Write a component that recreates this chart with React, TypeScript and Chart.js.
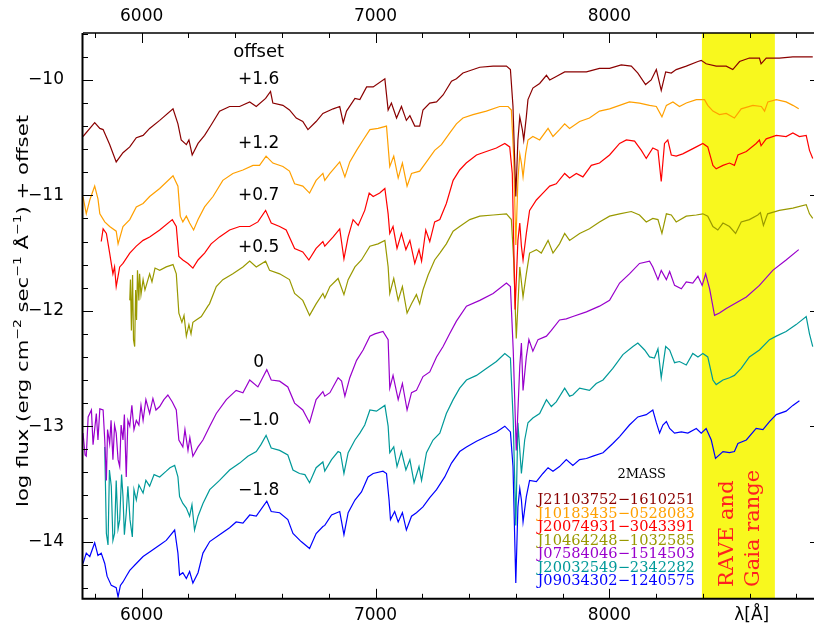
import React, { useEffect, useRef } from "react";
import { Chart, registerables } from "chart.js";

Chart.register(...registerables);

// ---------- data: [wavelength (Å), log flux + offset] ----------
const darkRed = [
  [5749,-10.49],[5799,-10.37],[5821,-10.42],[5835,-10.43],[5863,-10.56],[5891,-10.71],[5920,-10.63],[5949,-10.58],
  [5977,-10.50],[6006,-10.48],[6034,-10.42],[6077,-10.35],[6134,-10.25],[6155,-10.38],[6169,-10.52],[6191,-10.56],
  [6202,-10.52],[6216,-10.65],[6241,-10.55],[6269,-10.48],[6297,-10.39],[6333,-10.27],[6376,-10.23],[6419,-10.23],
  [6462,-10.19],[6490,-10.23],[6530,-10.16],[6551,-10.10],[6561,-10.20],[6604,-10.22],[6632,-10.26],[6661,-10.33],
  [6689,-10.36],[6711,-10.43],[6746,-10.36],[6775,-10.29],[6819,-10.25],[6847,-10.23],[6862,-10.37],[6876,-10.27],
  [6912,-10.16],[6933,-10.17],[6962,-10.06],[6990,-10.06],[7040,-9.99],[7054,-10.26],[7068,-10.20],[7090,-10.33],
  [7111,-10.23],[7132,-10.35],[7147,-10.31],[7168,-10.40],[7189,-10.40],[7203,-10.26],[7232,-10.20],[7261,-10.19],
  [7289,-10.13],[7325,-10.01],[7346,-9.99],[7374,-9.94],[7446,-9.89],[7503,-9.88],[7560,-9.88],[7577,-9.91],
  [7588,-10.23],[7600,-11.01],[7609,-10.52],[7617,-10.32],[7628,-10.43],[7634,-10.52],[7645,-10.32],[7652,-10.17],
  [7673,-10.07],[7702,-10.03],[7731,-9.96],[7745,-10.00],[7773,-9.97],[7809,-9.93],[7844,-9.93],[7902,-9.93],
  [7958,-9.90],[8001,-9.90],[8051,-9.87],[8094,-9.88],[8122,-9.94],[8155,-10.04],[8179,-10.00],[8201,-9.91],
  [8222,-10.09],[8241,-9.93],[8265,-9.94],[8286,-9.91],[8329,-9.88],[8379,-9.84],[8393,-9.83],[8414,-9.86],
  [8457,-9.88],[8500,-9.88],[8528,-9.91],[8557,-9.84],[8599,-9.81],[8642,-9.81],[8649,-9.86],[8671,-9.81],
  [8727,-9.81],[8785,-9.80],[8870,-9.80],
];

const orange = [
  [5749,-11.01],[5763,-11.16],[5778,-11.04],[5799,-10.92],[5813,-11.03],[5821,-11.16],[5842,-11.23],[5863,-11.27],
  [5891,-11.31],[5899,-11.42],[5920,-11.27],[5949,-11.21],[5977,-11.10],[6006,-11.07],[6034,-11.01],[6077,-10.94],
  [6134,-10.83],[6155,-10.92],[6165,-11.18],[6176,-11.23],[6191,-11.18],[6205,-11.24],[6222,-11.30],[6241,-11.21],
  [6269,-11.10],[6305,-11.01],[6347,-10.87],[6390,-10.81],[6433,-10.78],[6476,-10.74],[6504,-10.74],[6532,-10.66],
  [6561,-10.72],[6604,-10.75],[6632,-10.79],[6654,-10.90],[6689,-10.92],[6718,-10.98],[6746,-10.87],[6775,-10.81],
  [6783,-10.87],[6805,-10.81],[6847,-10.71],[6869,-10.84],[6890,-10.71],[6919,-10.61],[6947,-10.52],[6976,-10.43],
  [7011,-10.42],[7047,-10.40],[7061,-10.75],[7078,-10.66],[7097,-10.85],[7115,-10.72],[7135,-10.92],[7154,-10.81],
  [7189,-10.79],[7218,-10.71],[7253,-10.61],[7282,-10.56],[7317,-10.46],[7346,-10.38],[7374,-10.33],[7417,-10.30],
  [7474,-10.27],[7531,-10.23],[7567,-10.23],[7581,-10.26],[7591,-10.66],[7600,-11.43],[7609,-10.87],[7617,-10.64],
  [7624,-10.72],[7631,-10.84],[7642,-10.64],[7652,-10.52],[7673,-10.49],[7702,-10.52],[7738,-10.42],[7759,-10.49],
  [7787,-10.43],[7809,-10.38],[7830,-10.42],[7873,-10.36],[7915,-10.33],[7958,-10.27],[8001,-10.25],[8044,-10.22],
  [8086,-10.19],[8129,-10.20],[8172,-10.22],[8201,-10.23],[8225,-10.32],[8244,-10.22],[8272,-10.19],[8300,-10.23],
  [8329,-10.20],[8372,-10.17],[8407,-10.17],[8421,-10.22],[8443,-10.27],[8471,-10.30],[8500,-10.29],[8535,-10.33],
  [8564,-10.25],[8614,-10.22],[8650,-10.23],[8664,-10.27],[8678,-10.19],[8714,-10.17],[8756,-10.19],[8785,-10.22],
  [8810,-10.25],
];

const red = [
  [5827,-11.40],[5835,-11.29],[5849,-11.33],[5863,-11.50],[5877,-11.68],[5884,-11.62],[5891,-11.79],[5899,-11.70],
  [5906,-11.62],[5920,-11.59],[5949,-11.50],[5977,-11.44],[6006,-11.39],[6034,-11.36],[6077,-11.30],[6131,-11.21],
  [6148,-11.27],[6159,-11.53],[6176,-11.56],[6198,-11.59],[6219,-11.63],[6241,-11.56],[6269,-11.50],[6297,-11.42],
  [6333,-11.36],[6376,-11.30],[6419,-11.27],[6462,-11.27],[6497,-11.23],[6530,-11.13],[6554,-11.24],[6590,-11.27],
  [6618,-11.30],[6654,-11.46],[6689,-11.49],[6715,-11.56],[6746,-11.46],[6775,-11.40],[6783,-11.44],[6819,-11.36],
  [6847,-11.29],[6865,-11.55],[6883,-11.36],[6904,-11.21],[6926,-11.26],[6954,-11.13],[6973,-10.98],[6990,-11.01],
  [7018,-10.98],[7040,-10.94],[7054,-11.16],[7061,-11.33],[7075,-11.27],[7092,-11.46],[7111,-11.33],[7130,-11.47],
  [7147,-11.39],[7168,-11.59],[7186,-11.47],[7197,-11.57],[7215,-11.30],[7232,-11.40],[7253,-11.23],[7275,-11.21],
  [7303,-11.07],[7332,-10.87],[7360,-10.78],[7388,-10.72],[7432,-10.65],[7474,-10.62],[7517,-10.59],[7553,-10.55],
  [7574,-10.58],[7585,-10.81],[7597,-11.99],[7609,-11.39],[7617,-11.24],[7624,-11.44],[7631,-11.56],[7645,-11.33],
  [7659,-11.13],[7688,-11.04],[7716,-10.98],[7745,-10.92],[7773,-10.90],[7809,-10.81],[7830,-10.85],[7859,-10.81],
  [7887,-10.84],[7923,-10.74],[7958,-10.72],[8001,-10.65],[8044,-10.55],[8073,-10.52],[8108,-10.53],[8137,-10.61],
  [8158,-10.68],[8186,-10.59],[8208,-10.61],[8222,-10.88],[8236,-10.55],[8250,-10.52],[8265,-10.65],[8286,-10.66],
  [8314,-10.64],[8343,-10.61],[8372,-10.58],[8400,-10.55],[8421,-10.58],[8443,-10.74],[8457,-10.77],[8486,-10.74],
  [8514,-10.72],[8535,-10.74],[8550,-10.65],[8586,-10.62],[8628,-10.55],[8642,-10.52],[8649,-10.57],[8671,-10.51],
  [8714,-10.48],[8756,-10.49],[8785,-10.46],[8813,-10.49],[8842,-10.48],[8856,-10.61],[8870,-10.68],
];

const olive = [
  [5949,-11.91],[5952,-11.73],[5956,-12.17],[5961,-11.69],[5965,-12.25],[5970,-12.31],[5974,-11.82],[5978,-12.08],
  [5982,-11.65],[5988,-11.91],[5991,-11.68],[5997,-11.86],[6006,-11.73],[6014,-11.82],[6034,-11.68],[6044,-11.75],
  [6057,-11.63],[6077,-11.65],[6105,-11.62],[6134,-11.60],[6148,-11.68],[6159,-12.02],[6172,-12.10],[6181,-12.04],
  [6191,-12.22],[6202,-12.12],[6211,-12.20],[6219,-12.10],[6233,-12.08],[6255,-12.05],[6283,-11.96],[6290,-11.94],
  [6319,-11.79],[6347,-11.73],[6390,-11.68],[6433,-11.62],[6462,-11.57],[6490,-11.62],[6530,-11.57],[6547,-11.65],
  [6590,-11.68],[6632,-11.73],[6654,-11.85],[6689,-11.91],[6718,-12.04],[6746,-11.94],[6775,-11.85],[6783,-11.89],
  [6805,-11.79],[6840,-11.72],[6865,-11.86],[6883,-11.73],[6912,-11.62],[6940,-11.56],[6976,-11.44],[7011,-11.42],
  [7040,-11.39],[7054,-11.62],[7061,-11.85],[7078,-11.72],[7097,-11.91],[7115,-11.79],[7135,-12.02],[7154,-11.94],
  [7175,-11.86],[7189,-11.94],[7203,-11.82],[7225,-11.69],[7253,-11.56],[7275,-11.50],[7303,-11.42],[7332,-11.31],
  [7360,-11.27],[7403,-11.21],[7446,-11.18],[7503,-11.17],[7560,-11.16],[7581,-11.21],[7591,-11.56],[7602,-12.24],
  [7617,-11.62],[7631,-11.88],[7645,-11.68],[7659,-11.50],[7688,-11.47],[7709,-11.50],[7738,-11.39],[7759,-11.50],
  [7787,-11.42],[7809,-11.33],[7830,-11.39],[7873,-11.33],[7915,-11.29],[7958,-11.23],[8001,-11.18],[8044,-11.16],
  [8094,-11.14],[8129,-11.17],[8158,-11.23],[8186,-11.20],[8208,-11.21],[8225,-11.33],[8244,-11.16],[8265,-11.17],
  [8286,-11.23],[8329,-11.18],[8372,-11.17],[8400,-11.16],[8421,-11.18],[8443,-11.27],[8464,-11.30],[8486,-11.24],
  [8514,-11.27],[8540,-11.33],[8564,-11.23],[8599,-11.21],[8635,-11.17],[8646,-11.15],[8659,-11.26],[8677,-11.16],
  [8727,-11.13],[8785,-11.11],[8842,-11.08],[8856,-11.16],[8870,-11.20],
];

const purple = [
  [5749,-13.06],[5758,-13.25],[5763,-13.26],[5771,-12.92],[5785,-12.86],[5792,-13.16],[5806,-12.89],[5813,-13.12],
  [5821,-12.85],[5835,-12.86],[5842,-13.12],[5849,-13.47],[5854,-13.03],[5863,-13.15],[5869,-12.95],[5877,-13.29],
  [5884,-12.99],[5891,-13.06],[5899,-13.29],[5906,-13.35],[5912,-12.99],[5920,-13.12],[5926,-12.90],[5934,-13.44],
  [5941,-12.95],[5949,-13.00],[5958,-12.82],[5967,-13.03],[5977,-12.95],[5988,-12.99],[5997,-12.82],[6006,-12.95],
  [6018,-12.77],[6034,-12.89],[6048,-12.76],[6061,-12.86],[6077,-12.83],[6095,-12.77],[6112,-12.73],[6131,-12.79],
  [6148,-12.86],[6159,-13.12],[6176,-13.18],[6185,-13.03],[6198,-13.21],[6206,-13.10],[6219,-13.26],[6241,-13.18],
  [6262,-13.12],[6291,-13.00],[6319,-12.89],[6362,-12.77],[6404,-12.69],[6433,-12.71],[6462,-12.60],[6497,-12.66],
  [6535,-12.51],[6554,-12.60],[6590,-12.61],[6625,-12.66],[6654,-12.80],[6689,-12.86],[6718,-12.97],[6746,-12.77],
  [6775,-12.70],[6783,-12.74],[6805,-12.71],[6840,-12.58],[6855,-12.61],[6869,-12.74],[6890,-12.58],[6919,-12.43],
  [6947,-12.34],[6976,-12.22],[6997,-12.20],[7032,-12.18],[7054,-12.25],[7061,-12.67],[7075,-12.56],[7097,-12.77],
  [7115,-12.63],[7135,-12.86],[7154,-12.71],[7175,-12.69],[7203,-12.57],[7232,-12.53],[7261,-12.40],[7289,-12.31],
  [7317,-12.20],[7346,-12.09],[7389,-11.96],[7446,-11.91],[7503,-11.85],[7560,-11.76],[7577,-11.79],[7589,-12.34],
  [7602,-13.21],[7617,-12.48],[7624,-12.28],[7631,-12.69],[7645,-12.40],[7656,-12.25],[7673,-12.35],[7695,-12.25],
  [7731,-12.22],[7752,-12.17],[7787,-12.08],[7816,-12.07],[7844,-12.05],[7902,-12.01],[7958,-11.96],[8001,-11.91],
  [8044,-11.76],[8086,-11.68],[8129,-11.59],[8172,-11.57],[8186,-11.62],[8208,-11.73],[8222,-11.65],[8244,-11.73],
  [8258,-11.66],[8279,-11.78],[8308,-11.81],[8329,-11.75],[8357,-11.76],[8379,-11.70],[8397,-11.78],[8412,-11.68],
  [8429,-11.81],[8450,-12.04],[8471,-12.02],[8500,-11.98],[8543,-11.93],[8586,-11.88],[8642,-11.78],[8699,-11.65],
  [8756,-11.56],[8810,-11.47],
];

const teal = [
  [5842,-13.18],[5849,-13.93],[5856,-14.03],[5862,-13.38],[5870,-13.52],[5877,-13.99],[5884,-13.93],[5891,-13.47],
  [5899,-13.89],[5906,-13.81],[5914,-13.42],[5920,-13.61],[5926,-13.94],[5934,-13.75],[5941,-13.52],[5950,-13.81],
  [5960,-13.96],[5967,-13.55],[5977,-13.64],[5988,-13.51],[6006,-13.58],[6018,-13.47],[6034,-13.52],[6053,-13.42],
  [6077,-13.44],[6105,-13.39],[6121,-13.36],[6141,-13.34],[6155,-13.44],[6162,-13.61],[6176,-13.67],[6191,-13.71],
  [6205,-13.78],[6215,-13.68],[6226,-13.90],[6241,-13.78],[6262,-13.67],[6291,-13.55],[6333,-13.47],[6376,-13.38],
  [6419,-13.32],[6454,-13.26],[6490,-13.22],[6510,-13.16],[6532,-13.08],[6554,-13.19],[6590,-13.21],[6625,-13.25],
  [6647,-13.38],[6675,-13.41],[6698,-13.42],[6718,-13.49],[6746,-13.36],[6775,-13.31],[6783,-13.39],[6812,-13.29],
  [6840,-13.22],[6850,-13.23],[6865,-13.41],[6883,-13.23],[6912,-13.12],[6933,-13.06],[6954,-12.99],[6976,-12.86],
  [7004,-12.87],[7040,-12.82],[7054,-13.00],[7061,-13.23],[7078,-13.18],[7092,-13.35],[7111,-13.22],[7130,-13.38],
  [7147,-13.29],[7165,-13.49],[7186,-13.35],[7197,-13.47],[7218,-13.23],[7246,-13.12],[7275,-13.06],[7303,-12.89],
  [7332,-12.77],[7360,-12.67],[7389,-12.60],[7432,-12.56],[7474,-12.50],[7517,-12.44],[7553,-12.37],[7577,-12.41],
  [7589,-12.95],[7600,-13.86],[7609,-12.97],[7624,-13.41],[7638,-13.12],[7652,-12.97],[7673,-12.93],[7702,-12.89],
  [7731,-12.77],[7752,-12.83],[7773,-12.79],[7809,-12.67],[7830,-12.74],[7844,-12.73],[7873,-12.67],[7915,-12.69],
  [7944,-12.63],[7973,-12.60],[8015,-12.50],[8058,-12.38],[8101,-12.31],[8122,-12.28],[8151,-12.34],[8172,-12.40],
  [8193,-12.41],[8208,-12.33],[8222,-12.58],[8241,-12.31],[8258,-12.34],[8279,-12.45],[8300,-12.44],[8329,-12.47],
  [8357,-12.37],[8379,-12.40],[8400,-12.37],[8421,-12.40],[8443,-12.60],[8457,-12.64],[8486,-12.60],[8514,-12.58],
  [8535,-12.56],[8564,-12.50],[8599,-12.40],[8642,-12.34],[8685,-12.25],[8714,-12.22],[8756,-12.18],[8799,-12.12],
  [8842,-12.05],[8856,-12.20],[8870,-12.31],
];

const blue = [
  [5749,-14.19],[5763,-14.10],[5778,-14.13],[5799,-14.01],[5813,-14.12],[5827,-14.10],[5842,-14.19],[5852,-14.30],
  [5870,-14.38],[5891,-14.40],[5899,-14.48],[5909,-14.38],[5920,-14.35],[5934,-14.30],[5949,-14.25],[5977,-14.19],
  [6006,-14.13],[6034,-14.09],[6077,-14.03],[6105,-13.99],[6141,-13.90],[6155,-14.10],[6162,-14.29],[6176,-14.27],
  [6191,-14.32],[6205,-14.26],[6219,-14.36],[6241,-14.27],[6262,-14.10],[6291,-14.00],[6333,-13.94],[6376,-13.88],
  [6404,-13.83],[6433,-13.84],[6462,-13.77],[6490,-13.78],[6535,-13.65],[6554,-13.74],[6590,-13.75],[6625,-13.81],
  [6647,-13.93],[6682,-14.00],[6718,-14.06],[6746,-13.93],[6775,-13.87],[6783,-13.86],[6812,-13.77],[6847,-13.74],
  [6865,-13.94],[6883,-13.75],[6912,-13.64],[6940,-13.57],[6968,-13.44],[6990,-13.41],[7032,-13.39],[7047,-13.41],
  [7058,-13.64],[7064,-13.81],[7082,-13.74],[7097,-13.83],[7115,-13.75],[7132,-13.90],[7154,-13.78],[7175,-13.75],
  [7203,-13.70],[7232,-13.62],[7261,-13.55],[7296,-13.44],[7325,-13.32],[7360,-13.22],[7389,-13.18],[7432,-13.13],
  [7474,-13.09],[7517,-13.05],[7553,-13.00],[7577,-13.05],[7588,-13.35],[7600,-14.36],[7609,-13.70],[7617,-13.54],
  [7624,-13.64],[7631,-13.83],[7645,-13.61],[7659,-13.47],[7688,-13.48],[7716,-13.41],[7738,-13.36],[7759,-13.39],
  [7787,-13.35],[7816,-13.29],[7844,-13.34],[7873,-13.29],[7902,-13.28],[7930,-13.26],[7973,-13.23],[8015,-13.15],
  [8044,-13.09],[8086,-12.99],[8122,-12.92],[8158,-12.90],[8186,-12.86],[8201,-12.97],[8215,-13.06],[8229,-12.99],
  [8244,-12.96],[8258,-13.02],[8279,-13.06],[8308,-13.05],[8336,-13.06],[8372,-13.02],[8393,-13.06],[8414,-13.02],
  [8436,-13.12],[8454,-13.28],[8486,-13.22],[8514,-13.23],[8535,-13.22],[8550,-13.15],[8586,-13.12],[8628,-13.02],
  [8657,-13.03],[8685,-12.96],[8714,-12.90],[8756,-12.87],[8785,-12.82],[8813,-12.78],
];

const starNames = [
  "J21103752\u22121610251",
  "J10183435\u22120528083",
  "J20074931\u22123043391",
  "J10464248\u22121032585",
  "J07584046\u22121514503",
  "J20032549\u22122342282",
  "J09034302\u22121240575",
];
const offsetTexts = ["+1.6", "+1.2", "+0.7", "+0.5", "0", "\u22121.0", "\u22121.8"];
const offsetLabelFlux = [-10.0, -10.555, -11.005, -11.455, -12.447, -12.954, -13.561];
const xMajorTicks = [6000, 7000, 8000];
const yMajorTicks = [-14, -13, -12, -11, -10];
const raveGaiaRange = [8396, 8708];

const seriesData = [darkRed, orange, red, olive, purple, teal, blue];
const seriesColors = ["#8a0000", "#ffa000", "#ff0000", "#999900", "#9900cc", "#009999", "#0000ff"];

const X_MIN = 5749, X_MAX = 8901, Y_MIN = -14.496, Y_MAX = -9.593;
const SANS = '"DejaVu Sans"';
const SERIF = '"DejaVu Serif"';

const decorPlugin = {
  id: "decor",
  beforeDatasetsDraw(chart: any) {
    const { ctx, chartArea: a, scales } = chart;
    const x = scales.x;
    ctx.save();
    ctx.fillStyle = "#f8f81e";
    const x0 = x.getPixelForValue(raveGaiaRange[0]);
    const x1 = x.getPixelForValue(raveGaiaRange[1]);
    ctx.fillRect(x0, a.top, x1 - x0, a.bottom - a.top);
    ctx.restore();
  },
  afterDatasetsDraw(chart: any) {
    const { ctx, chartArea: a, scales } = chart;
    const x = scales.x, y = scales.y;
    ctx.save();
    // frame
    ctx.strokeStyle = "#000";
    ctx.lineWidth = 2;
    ctx.beginPath();
    ctx.moveTo(a.left - 0.5, a.top);
    ctx.lineTo(a.left - 0.5, a.bottom);
    ctx.lineTo(a.right, a.bottom);
    ctx.stroke();
    ctx.lineWidth = 1.4;
    ctx.beginPath();
    ctx.moveTo(a.left, a.top);
    ctx.lineTo(a.right, a.top);
    ctx.lineTo(a.right, a.bottom);
    ctx.stroke();
    // ticks (inward)
    ctx.lineWidth = 1;
    ctx.beginPath();
    for (let k = 29; k <= 44; k++) {
      const v = k * 200;
      const px = Math.round(x.getPixelForValue(v)) + 0.5;
      const len = v % 1000 === 0 ? 10 : 5;
      ctx.moveTo(px, a.bottom);
      ctx.lineTo(px, a.bottom - len);
      ctx.moveTo(px, a.top);
      ctx.lineTo(px, a.top + len);
    }
    for (let k = -72; k <= -48; k++) {
      const v = k / 5;
      const py = Math.round(y.getPixelForValue(v)) + 0.5;
      const len = k % 5 === 0 ? 10 : 5;
      ctx.moveTo(a.left, py);
      ctx.lineTo(a.left + len, py);
      ctx.moveTo(a.right, py);
      ctx.lineTo(a.right - len, py);
    }
    ctx.stroke();

    // offset labels
    ctx.fillStyle = "#000";
    ctx.textAlign = "center";
    ctx.textBaseline = "middle";
    ctx.font = `18px ${SANS}`;
    ctx.fillText("offset", x.getPixelForValue(6500), y.getPixelForValue(-9.757));
    ctx.font = `17px ${SANS}`;
    offsetTexts.forEach((t, i) => {
      ctx.fillText(t, x.getPixelForValue(6500), y.getPixelForValue(offsetLabelFlux[i]));
    });

    // 2MASS legend
    ctx.font = `13px ${SERIF}`;
    ctx.fillText("2MASS", 641.7, 475);
    ctx.textAlign = "left";
    ctx.font = `14.6px ${SERIF}`;
    starNames.forEach((n, i) => {
      ctx.fillStyle = seriesColors[i];
      ctx.fillText(n, 537.5, 500.5 + i * 13.5);
    });

    // RAVE and Gaia range
    ctx.fillStyle = "#ff2020";
    ctx.font = `21px ${SERIF}`;
    ctx.textBaseline = "alphabetic";
    ctx.textAlign = "left";
    [["RAVE and", 733], ["Gaia range", 758.5]].forEach(([t, bx]) => {
      ctx.save();
      ctx.translate(bx as number, 587);
      ctx.rotate(-Math.PI / 2);
      ctx.fillText(t as string, 0, 0);
      ctx.restore();
    });

    // x axis title
    ctx.fillStyle = "#000";
    ctx.font = `17px ${SANS}`;
    ctx.textAlign = "center";
    ctx.textBaseline = "middle";
    ctx.fillText("\u03bb[\u00c5]", 751.7, 616);

    // y axis title
    const parts: [string, boolean][] = [
      ["log flux (erg cm", false], ["\u22122", true], [" sec", false], ["\u22121", true],
      [" \u00c5", false], ["\u22121", true], [") + offset", false],
    ];
    const fMain = `16px ${SANS}`, fSup = `10.5px ${SANS}`;
    let total = 0;
    const widths = parts.map(([t, s]) => {
      ctx.font = s ? fSup : fMain;
      const w = ctx.measureText(t).width;
      total += w;
      return w;
    });
    const target = 392;
    ctx.save();
    ctx.translate(28, 311);
    ctx.rotate(-Math.PI / 2);
    ctx.scale(target / total, 1);
    ctx.textAlign = "left";
    ctx.textBaseline = "alphabetic";
    let pos = -total / 2;
    parts.forEach(([t, s], i) => {
      ctx.font = s ? fSup : fMain;
      ctx.fillText(t, pos, s ? -7 : 0);
      pos += widths[i];
    });
    ctx.restore();
    ctx.restore();
  },
};

export default function App() {
  const ref = useRef<HTMLCanvasElement | null>(null);
  useEffect(() => {
    if (!ref.current) return;
    Chart.defaults.font.family = SANS;
    const datasets = seriesData.map((d, i) => ({
      label: starNames[i],
      data: d.map(([w, f]) => ({ x: w, y: f })),
      borderColor: seriesColors[i],
      backgroundColor: seriesColors[i],
      borderWidth: 1.2,
      pointRadius: 0,
      tension: 0,
      fill: false,
      xAxisID: "x",
      yAxisID: "y",
    }));
    const tickFont = { family: SANS, size: 17 };
    const chart = new Chart(ref.current, {
      type: "line",
      data: { datasets },
      options: {
        animation: false,
        responsive: false,
        devicePixelRatio: 1,
        parsing: true,
        layout: { padding: { left: 0, right: 10, top: 0, bottom: 0 } },
        plugins: { legend: { display: false }, tooltip: { enabled: false }, title: { display: false } },
        scales: {
          x: {
            type: "linear", position: "bottom", min: X_MIN, max: X_MAX,
            grid: { display: false, drawTicks: false }, border: { display: false },
            ticks: { font: tickFont, color: "#000", padding: 7, maxRotation: 0, callback: (v: any) => String(v) },
            afterBuildTicks: (s: any) => { s.ticks = xMajorTicks.map((v) => ({ value: v })); },
            afterFit: (s: any) => { s.height = 29; },
          },
          x2: {
            type: "linear", position: "top", min: X_MIN, max: X_MAX,
            grid: { display: false, drawTicks: false }, border: { display: false },
            ticks: { font: tickFont, color: "#000", padding: 6, maxRotation: 0, callback: (v: any) => String(v) },
            afterBuildTicks: (s: any) => { s.ticks = xMajorTicks.map((v) => ({ value: v })); },
            afterFit: (s: any) => { s.height = 33; },
          },
          y: {
            type: "linear", position: "left", min: Y_MIN, max: Y_MAX,
            grid: { display: false, drawTicks: false }, border: { display: false },
            ticks: {
              font: tickFont, color: "#000", padding: 19,
              callback: (v: any) => (v < 0 ? "\u2212" + Math.abs(v) : String(v)),
            },
            afterBuildTicks: (s: any) => { s.ticks = yMajorTicks.map((v) => ({ value: v })); },
            afterFit: (s: any) => { s.width = 83; },
          },
        },
      } as any,
      plugins: [decorPlugin],
    });
    return () => chart.destroy();
  }, []);
  return (
    <div style={{ position: "fixed", left: 0, top: 0, width: 814, height: 628, overflow: "hidden", background: "#fff" }}>
      <canvas ref={ref} width={830} height={628} style={{ display: "block", width: 830, height: 628 }} />
    </div>
  );
}
